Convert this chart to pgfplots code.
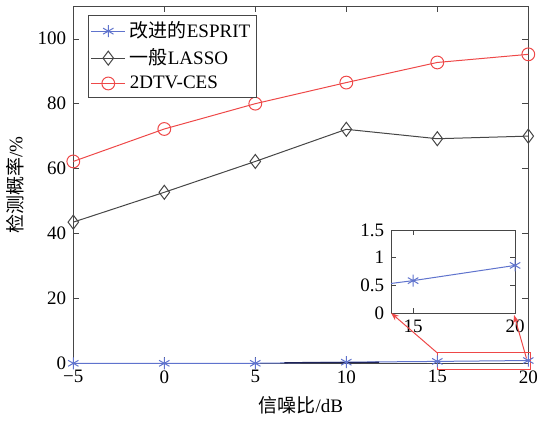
\documentclass[border=0pt]{standalone}
\usepackage{fontspec}
\setmainfont{Liberation Serif}
\newfontfamily\cjk{Noto Sans CJK SC}
\usepackage{pgfplots}
\pgfplotsset{compat=1.18}
\usetikzlibrary{arrows.meta}
\definecolor{cblue}{RGB}{95,115,205}
\definecolor{cred}{RGB}{238,72,72}
\definecolor{cblack}{RGB}{70,70,70}
\definecolor{axgray}{RGB}{70,70,70}
\definecolor{navy}{RGB}{30,35,90}
\newcommand\fs{\fontsize{9.5}{12}\selectfont}
\begin{document}
\begin{tikzpicture}
\begin{axis}[name=main, scale only axis, width=227.5pt, height=178.5pt,
  xmin=-5, xmax=20, ymin=0, ymax=110,
  xtick={-5,0,5,10,15,20}, xticklabels={−5,0,5,10,15,20},
  ytick={0,20,40,60,80,100},
  /pgf/number format/assume math mode=true,
  tick label style={font=\fs}, label style={font=\fs},
  xlabel={{\cjk 信噪比}/dB}, ylabel={{\cjk 检测概率}/\%},
  axis line style={draw=axgray}, tick style={axgray}, major tick length=3pt,
  clip=false,
  legend style={at={(0.033,0.975)}, anchor=north west, font=\fs, draw=axgray, inner sep=1pt, row sep=0pt},
  legend cell align=left,
]
\addplot[cblue, mark=asterisk, mark size=3pt, line width=0.5pt] coordinates {(-5,0)(0,0)(5,0)(10,0.35)(15,0.585)(20,0.86)};
\addlegendentry{{\cjk 改进的}ESPRIT}
\addplot[cblack, mark=diamond, mark size=3.5pt, line width=0.5pt] coordinates {(-5,43.5)(0,52.7)(5,62.2)(10,72.1)(15,69.2)(20,70.0)};
\addlegendentry{{\cjk 一般}LASSO}
\addplot[cred, mark=o, mark size=3.2pt, line width=0.5pt] coordinates {(-5,62.2)(0,72.2)(5,80)(10,86.5)(15,92.7)(20,95.2)};
\addlegendentry{2DTV-CES}
\addplot[navy, line width=0.6pt, forget plot] coordinates {(6.6,0.2)(11.8,0.3)};
\draw[cred, line width=0.5pt] (axis cs:15,-1.8) rectangle (axis cs:20.1,3.2);
\coordinate (ins) at (axis cs:12.46,15.5);
\coordinate (r1) at (axis cs:15,3.2);
\coordinate (r2) at (axis cs:19.9,1.5);
\end{axis}
\begin{axis}[name=inset, at={(ins)}, anchor=south west, scale only axis, width=62pt, height=41.5pt,
  xmin=13.92, xmax=20, ymin=0, ymax=1.5,
  xtick={15,20}, ytick={0,0.5,1,1.5}, yticklabels={0,0.5,1,1.5},
  /pgf/number format/assume math mode=true,
  tick label style={font=\fs},
  axis line style={draw=axgray}, tick style={axgray}, major tick length=2.5pt,
  axis background/.style={fill=white},
]
\addplot[cblue, mark=asterisk, mark size=3pt, line width=0.5pt] coordinates {(10,0.35)(15,0.585)(20,0.86)};
\end{axis}
\draw[cred, line width=0.5pt, -{Stealth[length=4pt,width=3pt]}] (r1) -- (inset.south west);
\draw[cred, line width=0.5pt, -{Stealth[length=4pt,width=3pt]}] (r2) -- ([xshift=-0.5pt,yshift=-1pt]inset.south east);
\pgfresetboundingbox
\path (main.south west) ++(-36.65pt,-28.35pt) rectangle ++(270pt,210pt);
\end{tikzpicture}
\end{document}
